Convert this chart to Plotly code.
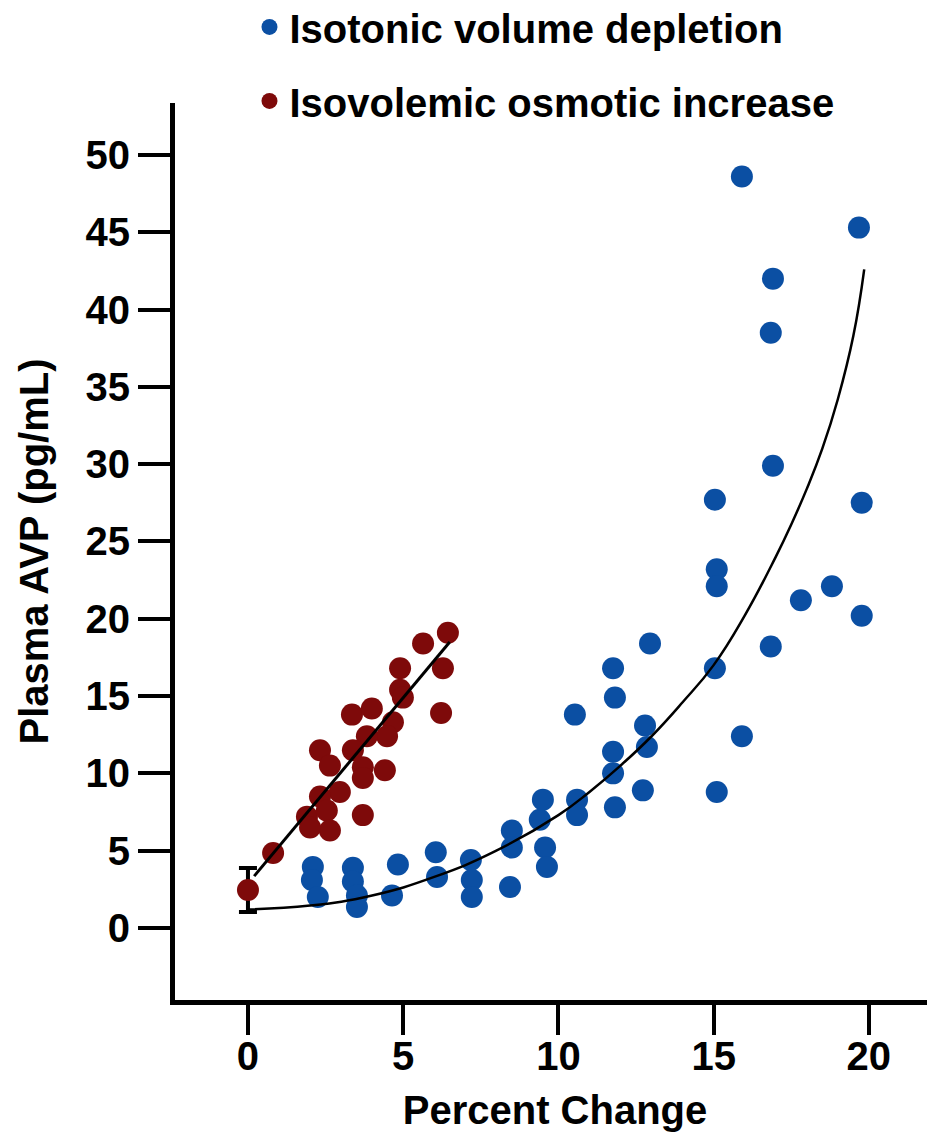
import plotly.graph_objects as go

# ---- data ----
blue_x = [2.09, 2.06, 2.25, 3.38, 3.38, 3.51, 3.51, 4.83, 4.64, 6.05, 6.09, 7.18, 7.21, 7.21,
          8.5, 8.5, 8.44, 9.4, 9.5, 9.57, 9.63, 10.53, 10.6, 10.6, 11.76, 11.82, 11.76, 11.76,
          11.82, 12.95, 12.79, 12.85, 12.72, 15.04, 15.1, 15.1, 15.04, 15.1, 15.91, 15.91,
          16.91, 16.84, 16.91, 16.84, 17.81, 18.81, 19.68, 19.77, 19.77]
blue_y = [3.95, 3.1, 2.0, 3.9, 3.0, 2.1, 1.36, 4.1, 2.1, 4.9, 3.3, 4.4, 3.1, 2.0,
          6.3, 5.2, 2.65, 7.0, 8.3, 5.2, 3.95, 13.8, 8.3, 7.3, 16.8, 14.9, 11.4, 10.0,
          7.8, 18.4, 13.1, 11.7, 8.9, 27.7, 23.2, 22.1, 16.8, 8.8, 48.6, 12.4,
          42.0, 38.5, 29.9, 18.2, 21.2, 22.1, 45.3, 27.5, 20.2]

red_x = [6.44, 5.64, 6.28, 4.9, 4.9, 4.99, 6.22, 3.35, 3.99, 4.67, 4.48, 3.83, 2.32, 3.38,
         2.64, 3.7, 4.41, 3.7, 2.96, 2.32, 1.9, 3.7, 2.54, 2.64, 2.0, 0.81, 0.0]
red_y = [19.1, 18.4, 16.8, 16.8, 15.4, 14.9, 13.9, 13.8, 14.2, 13.3, 12.4, 12.4, 11.5, 11.5,
         10.5, 10.4, 10.2, 9.7, 8.8, 8.5, 7.2, 7.3, 7.6, 6.3, 6.5, 4.85, 2.45]

# baseline mean with error bar
base_x = [0.0]
base_y = [2.45]
base_err_plus = [1.43]
base_err_minus = [1.42]

# fitted lines
red_fit_x = [0.2, 6.5]
red_fit_y = [3.35, 18.5]
blue_fit_x = [0.0, 2, 4, 6, 8, 10, 11, 12, 13, 14, 15, 16, 17, 17.5, 18, 18.5, 19, 19.5, 19.85]
blue_fit_y = [1.2, 1.45, 2.1, 3.3, 5.0, 7.3, 8.8, 10.5, 12.4, 14.6, 17.0, 20.2, 24.0, 26.1,
              28.4, 31.0, 34.2, 38.3, 42.6]

x_ticks = [0, 5, 10, 15, 20]
y_ticks = [0, 5, 10, 15, 20, 25, 30, 35, 40, 45, 50]

BLUE = "#0B4FA3"
RED = "#7E0A0A"
FONT = "Liberation Sans, Arial, sans-serif"

fig = go.Figure()

fig.add_trace(go.Scatter(
    x=base_x, y=base_y, mode="markers",
    marker=dict(size=1, color="rgba(0,0,0,0)"),
    error_y=dict(type="data", symmetric=False, array=base_err_plus,
                 arrayminus=base_err_minus, color="black", thickness=4, width=9),
    showlegend=False, hoverinfo="skip"))

fig.add_trace(go.Scatter(
    x=blue_x, y=blue_y, mode="markers", name="<b>Isotonic volume depletion</b>",
    legendgroup="a",
    marker=dict(size=22, color=BLUE, line=dict(width=0))))

fig.add_trace(go.Scatter(
    x=red_x, y=red_y, mode="markers", name="<b>Isovolemic osmotic increase</b>",
    legendgroup="b",
    marker=dict(size=22, color=RED, line=dict(width=0))))

fig.add_trace(go.Scatter(
    x=blue_fit_x, y=blue_fit_y, mode="lines",
    line=dict(color="black", width=2.5, shape="spline", smoothing=1.3),
    showlegend=False, hoverinfo="skip"))

fig.add_trace(go.Scatter(
    x=red_fit_x, y=red_fit_y, mode="lines", line=dict(color="black", width=3),
    showlegend=False, hoverinfo="skip"))

# the page adds an 8px body margin, so the figure is 8px smaller and shifted
fig.update_layout(
    width=927, height=1129,
    margin=dict(l=167, r=0, t=95, b=137, autoexpand=False),
    paper_bgcolor="white", plot_bgcolor="white",
    font=dict(family=FONT, color="black"),
    legend=dict(x=0.098, y=1.121, xanchor="left", yanchor="top",
                font=dict(size=40, family=FONT, color="black"),
                tracegroupgap=19, bgcolor="rgba(0,0,0,0)", itemsizing="trace"),
)

fig.update_xaxes(
    range=[-2.35, 22.13], tickvals=x_ticks, ticktext=[f"<b>{v}</b>" for v in x_ticks],
    showline=True, linecolor="black", linewidth=5,
    ticks="outside", ticklen=30, tickwidth=4, tickcolor="black",
    tickfont=dict(size=40, family=FONT, color="black"),
    ticklabelstandoff=-13,
    showgrid=False, zeroline=False, automargin=False,
    title=dict(text="<b>Percent Change</b>", font=dict(size=40, family=FONT, color="black"),
               standoff=20))

fig.update_yaxes(
    range=[-4.66, 53.36], tickvals=y_ticks, ticktext=[f"<b>{v}</b>" for v in y_ticks],
    showline=True, linecolor="black", linewidth=5,
    ticks="outside", ticklen=32, tickwidth=4, tickcolor="black",
    tickfont=dict(size=40, family=FONT, color="black"),
    showgrid=False, zeroline=False, automargin=False,
    title=dict(text="<b>Plasma AVP (pg/mL)</b>", font=dict(size=40, family=FONT, color="black"),
               standoff=26))

fig.write_html("out.html")
